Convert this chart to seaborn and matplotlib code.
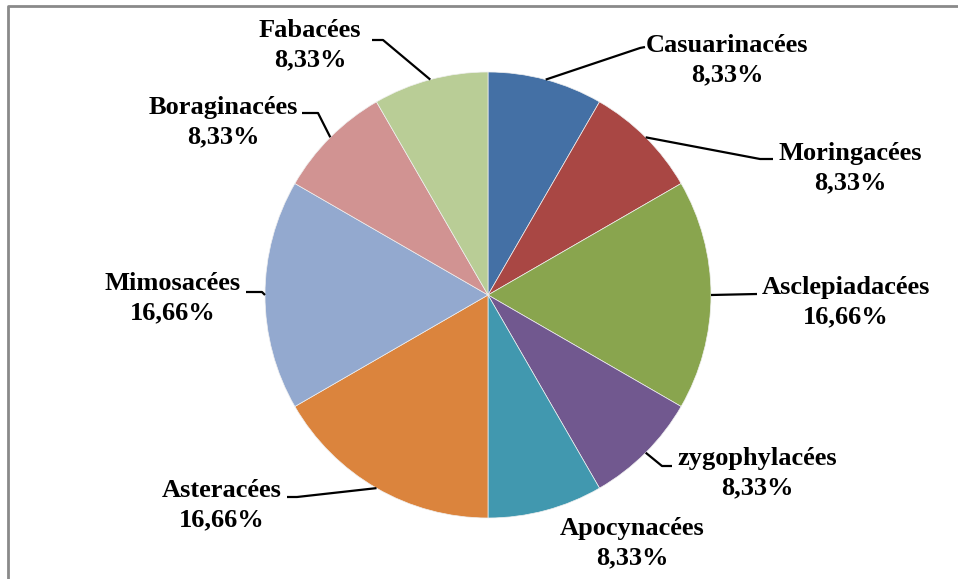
import numpy as np
import matplotlib
matplotlib.use("Agg")
import matplotlib.pyplot as plt
import seaborn as sns

# data
families = ["Casuarinacées", "Moringacées", "Asclepiadacées", "zygophylacées",
            "Apocynacées", "Asteracées", "Mimosacées", "Boraginacées", "Fabacées"]
shares = [8.33, 8.33, 16.66, 8.33, 8.33, 16.66, 16.66, 8.33, 8.33]
pct_labels = ["8,33%", "8,33%", "16,66%", "8,33%", "8,33%", "16,66%", "16,66%", "8,33%", "8,33%"]
colors = ["#4470A5", "#A94744", "#89A54E", "#71588F", "#4198AF",
          "#DB843D", "#93A9CF", "#D19392", "#B9CD96"]

# layout (pixel coords, y measured from top of the image)
W, H = 958, 579
center = (488, 295)
radius = 223
label_pos = [(727, 60), (850, 168), (846, 302), (757, 473), (632, 543),
             (222, 505), (173, 298), (223, 122), (310, 45)]
# leader lines: points from the label side towards the wedge
leaders = [[(645, 47), (640, 48)],
           [(773, 159), (760, 159)],
           [(757, 294)],
           [(672, 466), (662, 466)],
           [],
           [(287, 497), (297, 497)],
           [(246, 292), (262, 292)],
           [(302, 113), (318, 113)],
           [(372, 40), (383, 40)]]

sns.set_theme(style="white")
plt.rcParams["font.family"] = ["Liberation Serif", "DejaVu Serif"]

fig = plt.figure(figsize=(W / 100, H / 100), dpi=100)
ax = fig.add_axes([0, 0, 1, 1])

cx, cy = center[0], H - center[1]
wedges, _ = ax.pie(shares, colors=colors, startangle=90, counterclock=False,
                   center=(cx, cy), radius=radius, frame=True,
                   wedgeprops=dict(edgecolor="#f0f0f0", linewidth=0.5))
ax.set_xlim(0, W)
ax.set_ylim(0, H)
ax.set_aspect("equal")
ax.axis("off")

for w, name, pct, pos, pts in zip(wedges, families, pct_labels, label_pos, leaders):
    mid = np.deg2rad((w.theta1 + w.theta2) / 2)
    ex, ey = cx + radius * np.cos(mid), cy + radius * np.sin(mid)
    if pts:
        xs = [p[0] for p in pts] + [ex]
        ys = [H - p[1] for p in pts] + [ey]
        ax.plot(xs, ys, color="black", lw=1.6, solid_capstyle="butt")
    ax.text(pos[0], H - pos[1], f"{name}\n{pct}", ha="center", va="center",
            fontsize=19, fontweight="bold", color="black", linespacing=1.32)

# chart border (left and top edges visible in the crop)
ax.plot([8, 8, W], [0, H - 6, H - 6], color="#8a8a8a", lw=2, clip_on=False)

fig.savefig("out.png", dpi=100)
